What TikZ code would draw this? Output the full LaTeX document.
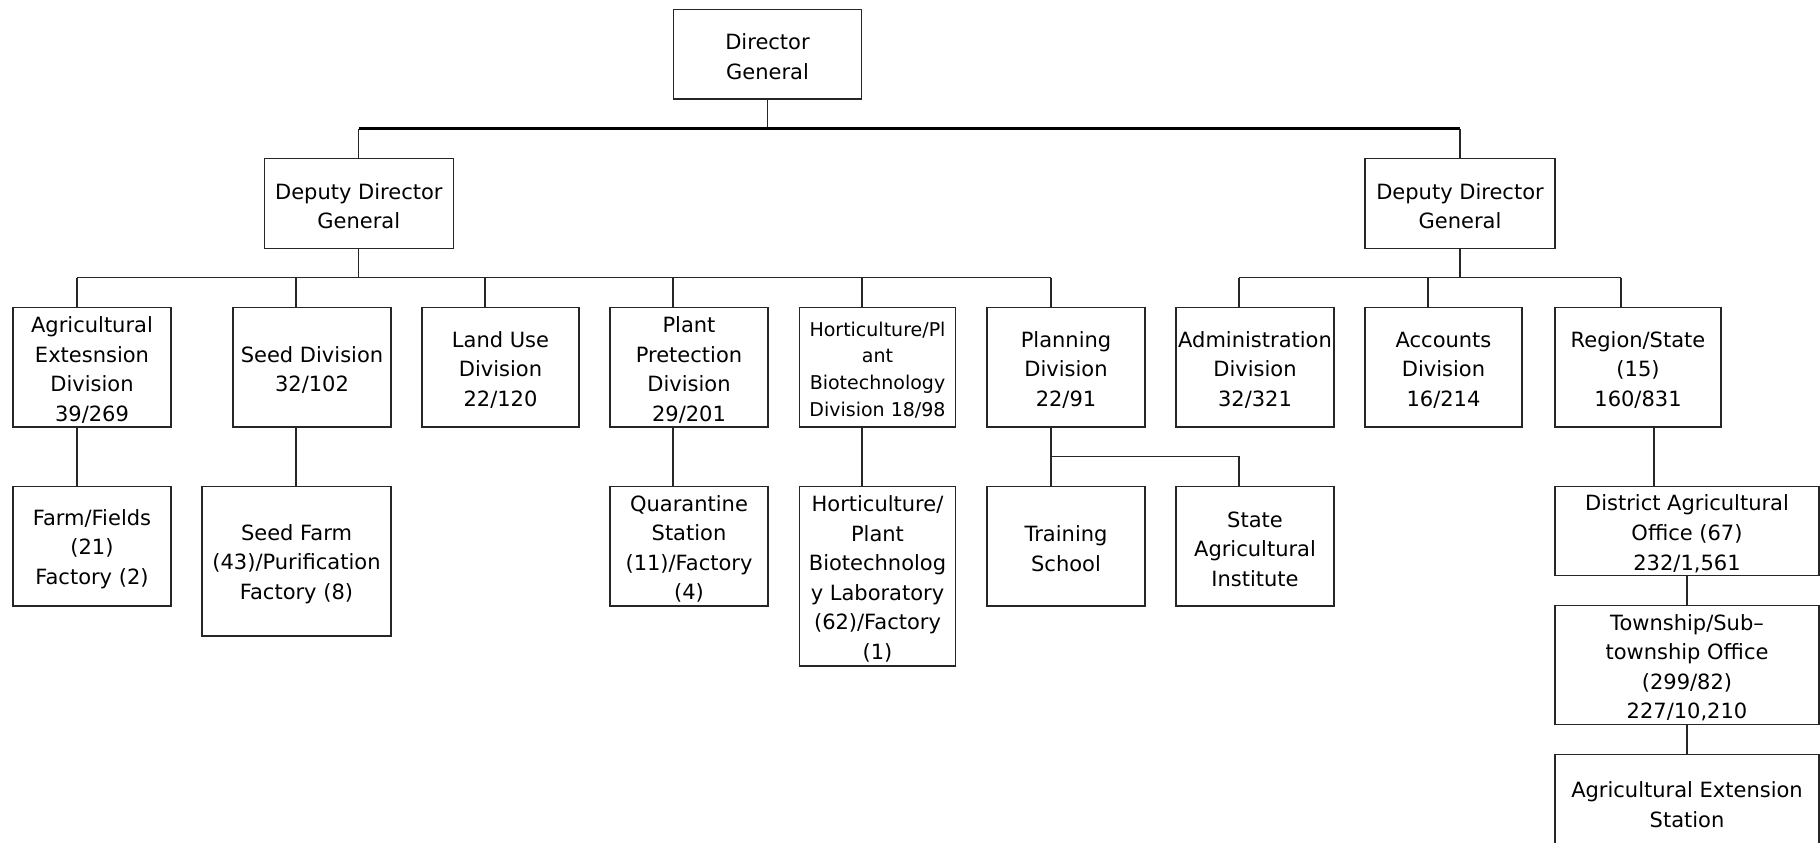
\documentclass[tikz,border=0pt]{standalone}
\usepackage{fontspec}
\setmainfont{DejaVu Sans}
\newcommand\mybox[7][]{%
  \node[box,minimum width={#5pt-#3pt},minimum height={#6pt-#4pt}] (#2) at ({(#3+#5)/2},{(#4+#6)/2}) {};
  \node[boxtext,#1] (#2-t) at ([yshift=-2.8pt]#2.center) {#7};}
\begin{document}
\begin{tikzpicture}[x=1pt,y=-1pt,
  box/.style={draw=black!85, line width=1.5pt, inner sep=0pt, outer sep=0pt},
  boxtext/.style={inner sep=0pt, outer sep=0pt, align=center,
    font=\fontsize{21}{29.6}\selectfont, text=black},
  smalltext/.style={font=\fontsize{19}{26.8}\selectfont},
  conn/.style={draw=black!85, line width=1.1pt},
  bus/.style={draw=black, line width=2.4pt}]
\useasboundingbox[fill=white] (0,0) rectangle (1820,843);

% top
\mybox{dg}{673.3}{9.3}{861.7}{99}{Director\\General}
\mybox{ddgl}{264.3}{158.3}{453.3}{248.3}{Deputy Director\\General}
\mybox{ddgr}{1365}{158.3}{1555}{248.3}{Deputy Director\\General}

% row 1
\mybox{agri}{13}{307.3}{171}{427}{Agricultural\\Extesnsion\\Division\\39/269}
\mybox{seed}{233}{307.3}{391}{427}{Seed Division\\32/102}
\mybox{land}{422}{307.3}{579}{427}{Land Use\\Division\\22/120}
\mybox{plant}{610}{307.3}{768}{427}{Plant\\Pretection\\Division\\29/201}
\mybox[smalltext]{hort}{799.3}{307.3}{955.7}{427}{Horticulture/Pl\\ant\\Biotechnology\\Division 18/98}
\mybox{plan}{987}{307.3}{1145}{427}{Planning\\Division\\22/91}
\mybox{admin}{1176}{307.3}{1334}{427}{Administration\\Division\\32/321}
\mybox{acc}{1365}{307.3}{1522}{427}{Accounts\\Division\\16/214}
\mybox{region}{1555}{307.3}{1721}{427}{Region/State\\(15)\\160/831}

% row 2
\mybox{farm}{13}{486.3}{171}{606}{Farm/Fields\\(21)\\Factory (2)}
\mybox{seedfarm}{202}{486.3}{391}{636}{Seed Farm\\(43)/Purification\\Factory (8)}
\mybox{quar}{610}{486.3}{768}{606}{Quarantine\\Station\\(11)/Factory\\(4)}
\mybox{hortlab}{799.3}{486.3}{955.7}{666}{Horticulture/\\Plant\\Biotechnolog\\y Laboratory\\(62)/Factory\\(1)}
\mybox{train}{987}{486.3}{1145}{606}{Training\\School}
\mybox{state}{1176}{486.3}{1334}{606}{State\\Agricultural\\Institute}
\mybox{district}{1555}{486.3}{1819}{575.7}{District Agricultural\\Office (67)\\232/1,561}
\mybox{township}{1555}{605.7}{1819}{724.3}{Township/Sub–\\township Office\\(299/82)\\227/10,210}
\mybox{aes}{1555}{754.3}{1819}{850}{Agricultural Extension\\Station}

% connector coordinates
\coordinate (xa) at (77,0);
\coordinate (xs) at (296,0);
\coordinate (xl) at (485,0);
\coordinate (xp) at (673,0);
\coordinate (xh) at (862,0);
\coordinate (xpl) at (1051,0);
\coordinate (xad) at (1239,0);
\coordinate (xac) at (1428,0);
\coordinate (xr) at (1621,0);
\coordinate (xr2) at (1654,0);
\coordinate (ybus) at (0,128.5);
\coordinate (ylb) at (0,277.7);
\coordinate (yplb) at (0,456.7);

% top bus
\draw[conn] (dg.south) -- (dg.south|-ybus);
\draw[bus] (ddgl.north|-ybus) -- (ddgr.north|-ybus);
\draw[conn] (ddgl.north|-ybus) -- (ddgl.north);
\draw[conn] (ddgr.north|-ybus) -- (ddgr.north);

% left bus
\draw[conn] (ddgl.south) -- (ddgl.south|-ylb);
\draw[conn] (xa|-ylb) -- (xpl|-ylb);
\draw[conn] (xa|-ylb) -- (xa|-agri.north);
\draw[conn] (xs|-ylb) -- (xs|-seed.north);
\draw[conn] (xl|-ylb) -- (xl|-land.north);
\draw[conn] (xp|-ylb) -- (xp|-plant.north);
\draw[conn] (xh|-ylb) -- (xh|-hort.north);
\draw[conn] (xpl|-ylb) -- (xpl|-plan.north);

% right bus
\draw[conn] (ddgr.south) -- (ddgr.south|-ylb);
\draw[conn] (xad|-ylb) -- (xr|-ylb);
\draw[conn] (xad|-ylb) -- (xad|-admin.north);
\draw[conn] (xac|-ylb) -- (xac|-acc.north);
\draw[conn] (xr|-ylb) -- (xr|-region.north);

% row 2 connectors
\draw[conn] (xa|-agri.south) -- (xa|-farm.north);
\draw[conn] (xs|-seed.south) -- (xs|-seedfarm.north);
\draw[conn] (xp|-plant.south) -- (xp|-quar.north);
\draw[conn] (xh|-hort.south) -- (xh|-hortlab.north);
\draw[conn] (xpl|-plan.south) -- (xpl|-train.north);
\draw[conn] (xpl|-yplb) -- (xad|-yplb) -- (xad|-state.north);
\draw[conn] (xr2|-region.south) -- (xr2|-district.north);
\draw[conn] (district.south) -- (township.north);
\draw[conn] (township.south) -- (aes.north);
\end{tikzpicture}
\end{document}
